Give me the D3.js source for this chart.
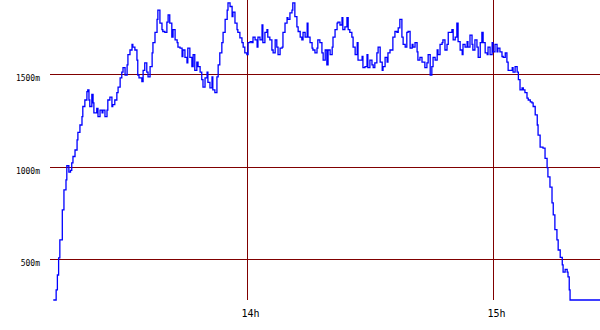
<!DOCTYPE html>
<html>
<head>
<meta charset="utf-8">
<script src="https://cdn.jsdelivr.net/npm/d3@7"></script>
<style>
	body { margin: 0; background: #fff; }
	svg { display: block; }
</style>
</head>
<body>
<div id="chart"></div>
<script>
// altitude trace, time is minutes after 13:00, value in metres
var samples = [
	[12.7,280],[13.3,280],[13.4,335],[13.7,415],[14.0,508],[14.3,605],[14.9,767],[15.3,875],[15.8,929],[16.0,1005],
	[16.5,970],[16.9,980],[17.2,1020],[17.5,1055],[18.0,1090],[18.5,1145],[18.7,1185],[19.2,1225],[19.7,1270],[19.9,1325],
	[20.4,1360],[20.9,1405],[21.1,1415],[21.4,1360],[21.6,1325],[22.1,1390],[22.4,1345],[22.6,1290],[23.3,1315],[23.6,1270],
	[24.1,1305],[24.6,1290],[24.8,1305],[25.3,1270],[25.8,1305],[26.0,1360],[26.5,1375],[27.0,1325],[27.2,1335],[27.7,1360],
	[28.2,1400],[28.5,1430],[29.0,1480],[29.4,1510],[29.7,1535],[30.2,1495],[30.7,1550],[30.9,1605],[31.4,1630],[31.9,1660],
	[32.1,1645],[32.6,1630],[33.1,1575],[33.3,1495],[33.6,1480],[34.3,1460],[34.6,1520],[35.0,1560],[35.5,1510],[35.8,1485],
	[36.3,1540],[36.8,1615],[37.0,1670],[37.5,1725],[38.0,1795],[38.2,1845],[38.7,1775],[39.2,1740],[39.4,1730],[39.9,1725],
	[40.4,1780],[40.7,1820],[41.1,1775],[41.6,1700],[41.9,1740],[42.4,1685],[42.9,1670],[43.1,1645],[43.6,1640],[44.1,1595],
	[44.3,1630],[44.8,1590],[45.3,1560],[45.5,1640],[46.0,1590],[46.5,1540],[46.8,1605],[47.2,1520],[47.7,1565],[48.0,1540],
	[48.5,1510],[48.9,1470],[49.2,1430],[49.7,1480],[50.2,1510],[50.4,1455],[50.9,1425],[51.4,1485],[51.6,1415],[52.1,1400],
	[52.6,1485],[52.9,1550],[53.3,1615],[53.8,1670],[54.1,1725],[54.6,1795],[55.1,1845],[55.3,1885],[55.8,1865],[56.3,1810],
	[56.5,1835],[57.0,1775],[57.5,1740],[57.7,1725],[58.2,1695],[58.7,1670],[59.0,1645],[59.4,1615],[59.9,1605],[60.2,1670],
	[60.7,1675],[61.1,1670],[61.4,1700],[61.9,1685],[62.4,1645],[62.6,1700],[63.1,1685],[63.6,1765],[63.8,1670],[64.3,1725],
	[64.8,1740],[65.0,1700],[65.5,1685],[66.0,1630],[66.3,1615],[66.8,1685],[67.2,1645],[67.5,1605],[68.0,1640],[68.5,1645],
	[68.7,1725],[69.2,1775],[69.7,1805],[69.9,1795],[70.4,1830],[70.9,1845],[71.1,1885],[71.6,1810],[72.1,1755],[72.4,1730],
	[72.9,1700],[73.3,1685],[73.6,1725],[74.1,1700],[74.6,1775],[74.8,1700],[75.3,1670],[75.8,1640],[76.0,1630],[76.5,1615],
	[77.0,1640],[77.2,1685],[77.7,1670],[78.2,1615],[78.5,1575],[79.0,1630],[79.4,1550],[79.7,1630],[80.2,1605],[80.7,1645],
	[80.9,1700],[81.4,1740],[81.9,1775],[82.1,1780],[82.6,1765],[83.1,1805],[83.3,1740],[83.8,1755],[84.3,1805],[84.6,1740],
	[85.0,1725],[85.5,1700],[85.8,1645],[86.3,1605],[86.8,1670],[87.0,1575],[87.5,1575],[88.0,1595],[88.2,1535],[88.7,1540],
	[89.2,1605],[89.4,1535],[89.9,1575],[90.4,1550],[90.7,1535],[91.1,1560],[91.6,1615],[91.9,1645],[92.4,1565],[92.9,1520],
	[93.1,1540],[93.6,1590],[94.1,1565],[94.3,1615],[94.8,1630],[95.3,1630],[95.5,1700],[96.0,1730],[96.5,1725],[96.8,1750],
	[97.2,1795],[97.7,1700],[98.0,1660],[98.5,1645],[98.9,1725],[99.2,1730],[99.7,1640],[100.2,1660],[100.4,1645],[100.9,1670],
	[101.4,1620],[101.6,1575],[102.1,1590],[102.6,1565],[102.9,1565],[103.3,1535],[103.8,1560],[104.1,1605],[104.6,1495],[105.0,1540],
	[105.3,1590],[105.8,1575],[106.3,1630],[106.5,1605],[107.0,1660],[107.5,1670],[107.7,1685],[108.2,1630],[108.7,1660],[109.0,1725],
	[109.4,1725],[109.9,1740],[110.2,1685],[110.7,1700],[111.1,1775],[111.4,1675],[111.9,1630],[112.4,1605],[112.6,1660],[113.1,1645],
	[113.6,1675],[113.8,1645],[114.3,1710],[114.8,1660],[115.0,1630],[115.5,1685],[116.0,1645],[116.3,1590],[116.8,1670],[117.2,1725],
	[117.5,1670],[118.0,1615],[118.5,1605],[118.7,1645],[119.2,1605],[119.7,1670],[119.9,1620],[120.4,1660],[120.9,1620],[121.1,1640],
	[121.6,1620],[122.1,1595],[122.4,1590],[122.9,1615],[123.3,1565],[123.6,1520],[124.1,1520],[124.6,1535],[124.8,1510],[125.3,1540],
	[125.8,1510],[126.1,1470],[126.5,1415],[127.0,1425],[127.3,1415],[127.7,1400],[128.2,1370],[128.5,1360],[129.0,1350],[129.4,1345],
	[129.7,1325],[130.2,1280],[130.7,1225],[130.9,1170],[131.4,1105],[131.9,1105],[132.1,1100],[132.6,1045],[133.1,995],[133.3,945],
	[133.8,890],[134.3,805],[134.6,740],[135.0,660],[135.5,605],[135.8,550],[136.3,510],[136.8,470],[137.0,430],[137.5,445],
	[138.0,430],[138.2,405],[138.5,335],[138.7,280],[146.0,280]
];

var yTicks = [500, 1000, 1500];
var yTickLabels = ["500m", "1000m", "1500m"];
var xTicks = [60, 120];
var xTickLabels = ["14h", "15h"];

var width = 600, height = 330;
var left = 50, plotBottom = 300;
var gridColor = "#800000";

var svg = d3.select("#chart").append("svg")
	.attr("width", width)
	.attr("height", height);

// 14h sits at ~247px, 15h at ~493px
var x = d3.scaleLinear()
	.domain([11.9, 146.0])
	.range([left, width]);

var y = d3.scaleLinear()
	.domain([280, 1900])
	.range([plotBottom, 0]);

svg.append("clipPath")
	.attr("id", "plot")
	.append("rect")
	.attr("x", left)
	.attr("y", 0)
	.attr("width", width - left)
	.attr("height", plotBottom + 1);

// horizontal grid + labels
var hgrid = svg.append("g").attr("class", "hgrid");
yTicks.forEach(function(v, i){
	var yy = Math.round(y(v)) + 0.5;
	hgrid.append("line")
		.attr("x1", left)
		.attr("x2", width)
		.attr("y1", yy)
		.attr("y2", yy)
		.attr("stroke", gridColor)
		.attr("stroke-width", 1)
		.attr("shape-rendering", "crispEdges");
	hgrid.append("text")
		.attr("x", 40)
		.attr("y", yy + 6.5)
		.attr("text-anchor", "end")
		.attr("font-family", "DejaVu Sans Mono, monospace")
		.attr("font-size", "8px")
		.attr("fill", "#000")
		.text(yTickLabels[i]);
});

// vertical grid + hour labels
var vgrid = svg.append("g").attr("class", "vgrid");
xTicks.forEach(function(t, i){
	var xx = Math.round(x(t)) + 0.5;
	vgrid.append("line")
		.attr("x1", xx)
		.attr("x2", xx)
		.attr("y1", 0)
		.attr("y2", plotBottom)
		.attr("stroke", gridColor)
		.attr("stroke-width", 1)
		.attr("shape-rendering", "crispEdges");
	vgrid.append("text")
		.attr("x", xx + 3)
		.attr("y", 317)
		.attr("text-anchor", "middle")
		.attr("font-family", "DejaVu Sans Mono, monospace")
		.attr("font-size", "10px")
		.attr("fill", "#000")
		.text(xTickLabels[i]);
});

// the trace itself
var line = d3.line()
	.x(function(d){ return x(d[0]); })
	.y(function(d){ return y(d[1]); })
	.curve(d3.curveStepAfter);

svg.append("path")
	.datum(samples)
	.attr("clip-path", "url(#plot)")
	.attr("fill", "none")
	.attr("stroke", "#0000ff")
	.attr("stroke-width", 1.3)
	.attr("d", line);
</script>
</body>
</html>
